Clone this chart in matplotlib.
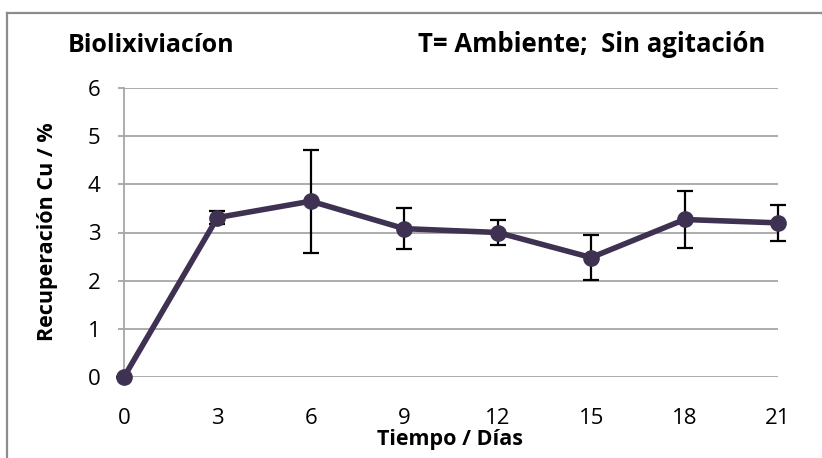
import matplotlib
matplotlib.use("Agg")
import matplotlib.pyplot as plt
from matplotlib.lines import Line2D

days = [0, 3, 6, 9, 12, 15, 18, 21]
recovery = [0.0, 3.31, 3.65, 3.08, 3.00, 2.48, 3.27, 3.20]
err = [0.0, 0.13, 1.07, 0.42, 0.26, 0.47, 0.60, 0.38]
yticks = [0, 1, 2, 3, 4, 5, 6]

FONT = ["Open Sans", "DejaVu Sans"]
plt.rcParams["font.family"] = FONT

fig = plt.figure(figsize=(8.22, 4.58), dpi=100)
W, H = 822, 458
ax = fig.add_axes([124 / W, 1 - 377 / H, (778 - 124) / W, (377 - 88) / H])

line_col = "#3F3151"
ax.errorbar(days, recovery, yerr=err, fmt="none", ecolor="black",
            elinewidth=1.6, capsize=6, capthick=1.6, zorder=3, clip_on=False)
ax.plot(days, recovery, color=line_col, lw=4, marker="o", ms=11,
        zorder=4, solid_capstyle="round", clip_on=False)

ax.set_xlim(0, 21)
ax.set_ylim(0, 6)
ax.set_xticks(days)
ax.set_xticklabels([str(d) for d in days])
ax.set_yticks(yticks)
ax.set_yticklabels([str(v) for v in yticks])
ax.grid(axis="y", color="#a6a6a6", lw=1.3)
ax.set_axisbelow(True)
for s in ["top", "right", "bottom"]:
    ax.spines[s].set_visible(False)
ax.spines["left"].set_color("#a6a6a6")
ax.spines["left"].set_linewidth(1.3)
ax.tick_params(axis="x", length=0, pad=22, labelsize=16)
ax.tick_params(axis="y", length=4, color="#a6a6a6", width=1.3, pad=13, labelsize=16)

fig.text(450 / W, 1 - 440 / H, "Tiempo / Días", ha="center", va="center",
         fontsize=15.5, fontweight="bold")
fig.text(48 / W, 1 - 232 / H, "Recuperación Cu / %", ha="center", va="center",
         rotation=90, fontsize=15.5, fontweight="bold")
fig.text(68 / W, 1 - 45 / H, "Biolixiviacíon", ha="left", va="center",
         fontsize=18, fontweight="bold")
fig.text(765 / W, 1 - 45 / H, "T= Ambiente;  Sin agitación", ha="right",
         va="center", fontsize=18.5, fontweight="bold")

bc = "#8c8c8c"
fig.add_artist(Line2D([7 / W, 7 / W], [0, 1 - 13 / H], color=bc, lw=1.6,
                      transform=fig.transFigure))
fig.add_artist(Line2D([7 / W, 1], [1 - 13 / H, 1 - 13 / H], color=bc, lw=1.6,
                      transform=fig.transFigure))

fig.savefig("out.png", dpi=100)
